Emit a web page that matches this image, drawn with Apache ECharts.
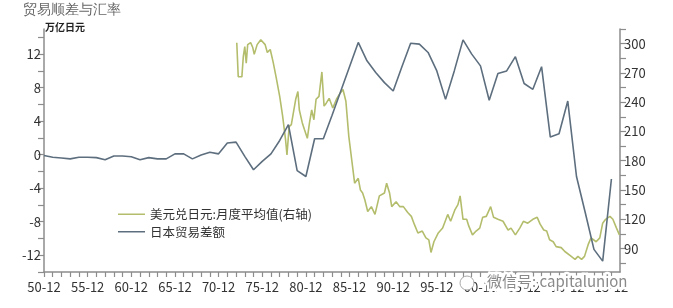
<!DOCTYPE html>
<html><head><meta charset="utf-8">
<script src="https://cdn.jsdelivr.net/npm/echarts@6/dist/echarts.min.js"></script>
<style>html,body{margin:0;padding:0;background:#fff}#c{width:673px;height:308px}</style>
</head><body><div id="c"></div>
<script>
// ---- data ----
const tradeYears = [1950,1951,1952,1953,1954,1955,1956,1957,1958,1959,1960,1961,1962,1963,1964,1965,1966,1967,1968,1969,1970,1971,1972,1973,1974,1975,1976,1977,1978,1979,1980,1981,1982,1983,1984,1985,1986,1987,1988,1989,1990,1991,1992,1993,1994,1995,1996,1997,1998,1999,2000,2001,2002,2003,2004,2005,2006,2007,2008,2009,2010,2011,2012,2013,2014,2015];
const tradeValues = [-0.1,-0.3,-0.4,-0.5,-0.3,-0.3,-0.35,-0.6,-0.15,-0.15,-0.25,-0.6,-0.35,-0.5,-0.5,0.1,0.1,-0.5,-0.05,0.3,0.1,1.4,1.5,-0.2,-1.8,-0.8,0.1,1.7,3.6,-1.9,-2.6,1.9,1.9,4.7,7.6,10.5,13.4,11.2,9.8,8.6,7.6,10.5,13.3,13.2,12.2,10.0,6.6,10.0,13.7,12.0,10.6,6.5,9.7,10.0,11.7,8.5,7.8,10.5,2.1,2.5,6.4,-2.6,-6.9,-11.3,-12.7,-2.9];
const fxDates = ['1973-01','1973-03','1973-05','1973-08','1973-10','1973-12','1974-02','1974-04','1974-08','1974-11','1975-01','1975-05','1975-10','1976-04','1976-07','1976-11','1977-03','1977-07','1977-12','1978-04','1978-08','1978-10','1979-01','1979-04','1979-10','1980-01','1980-03','1980-07','1980-10','1981-02','1981-05','1981-08','1981-11','1982-02','1982-06','1982-10','1983-01','1983-04','1983-08','1984-01','1984-06','1984-10','1985-03','1985-07','1985-11','1986-03','1986-07','1986-12','1987-03','1987-06','1987-09','1988-01','1988-06','1988-11','1989-05','1989-12','1990-03','1990-07','1990-10','1991-04','1991-09','1992-02','1992-08','1993-01','1993-05','1993-10','1994-04','1994-09','1995-01','1995-04','1995-08','1996-02','1996-08','1997-03','1997-07','1998-01','1998-05','1998-08','1998-12','1999-05','1999-08','2000-01','2000-06','2000-11','2001-03','2001-08','2002-02','2002-06','2002-12','2003-07','2004-02','2004-06','2004-12','2005-06','2005-11','2006-05','2006-12','2007-06','2007-10','2008-03','2008-07','2008-11','2009-04','2009-08','2010-03','2010-08','2011-03','2011-10','2012-02','2012-07','2012-11','2013-04','2013-08','2014-03','2014-08','2014-12','2015-04','2015-10','2016-02','2016-07','2016-11'];
const fxValues = [301,266,265,266,287,297,280,299,301,296,289,299,304,299,291,294,281,266,246,226,202,186,215,217,243,251,232,219,212,203,219,232,222,243,246,271,236,239,244,234,243,248,253,241,205,181,157,162,150,147,140,128,133,125,144,147,157,147,133,138,133,133,127,123,115,106,108,101,99,86,97,106,111,125,118,130,135,144,120,120,113,104,108,111,122,123,133,122,120,118,109,111,104,111,118,116,120,122,115,109,108,99,97,92,91,87,83,79,82,79,82,94,101,97,101,116,120,123,120,111,104];
const xLabelYears = [1950,1955,1960,1965,1970,1975,1980,1985,1990,1995,2000,2005,2010,2015];
const leftLabels = [-12,-8,-4,0,4,8,12];
const leftTicks = [-14,-12,-10,-8,-6,-4,-2,0,2,4,6,8,10,12,14];
const rightLabels = [90,120,150,180,210,240,270,300];
const rightTicks = [75,90,105,120,135,150,165,180,195,210,225,240,255,270,285,300,315];
const seriesNames = ['美元兑日元:月度平均值(右轴)','日本贸易差额'];
const titleText = '贸易顺差与汇率';
const unitText = '万亿日元';
const watermarkText = '微信号: capitalunion';

// ---- helpers ----
const dec = 11/12;
const monthToX = s => { const p = s.split('-').map(Number); return p[0] + (p[1]-1)/12; };
const tradeData = tradeYears.map((y,i)=>[y+dec, tradeValues[i]]);
const fxData = fxDates.map((d,i)=>[monthToX(d), fxValues[i]]);
const yearTicks = []; for (let y=1950; y<=2016; y++) yearTicks.push(y+dec);

const FONT = '"Noto Sans CJK SC", "Noto Sans", sans-serif';
const axisColor = '#8c8c8c';
const GREEN = '#b4bd6c', BLUE = '#5d6e7e';

const chart = echarts.init(document.getElementById('c'), null, {renderer:'canvas'});
chart.setOption({
  animation:false,
  backgroundColor:'#fff',
  grid:{left:44, right:53, top:29, bottom:36, containLabel:false},
  xAxis:{
    type:'value', min:1950+dec, max:2016.9,
    splitLine:{show:false},
    axisLine:{onZero:false, lineStyle:{color:axisColor, width:1.5}},
    axisTick:{customValues:yearTicks, length:5, lineStyle:{color:axisColor, width:1.2}},
    axisLabel:{customValues:xLabelYears.map(y=>y+dec), margin:9, color:'#333', fontSize:13, fontFamily:FONT,
      formatter:v=>String(Math.floor(v)%100).padStart(2,'0')+'-12'}
  },
  yAxis:[{
    type:'value', min:-14, max:15, position:'left',
    splitLine:{show:false},
    axisLine:{show:true, onZero:false, lineStyle:{color:axisColor, width:1.5}},
    axisTick:{show:true, customValues:leftTicks, length:6, lineStyle:{color:axisColor, width:1.2}},
    axisLabel:{customValues:leftLabels, margin:3, color:'#333', fontSize:13, fontFamily:FONT}
  },{
    type:'value', min:66, max:315, position:'right',
    splitLine:{show:false},
    axisLine:{show:true, onZero:false, lineStyle:{color:axisColor, width:1.5}},
    axisTick:{show:true, customValues:rightTicks, length:6, lineStyle:{color:axisColor, width:1.2}},
    axisLabel:{customValues:rightLabels, margin:4, color:'#333', fontSize:13, fontFamily:FONT}
  }],
  legend:{
    orient:'vertical', left:113, top:203, icon:'rect', itemWidth:27, itemHeight:1.5, itemGap:5,
    textStyle:{fontSize:12.5, color:'#333', fontFamily:FONT},
    data:seriesNames
  },
  series:[
    {name:seriesNames[0], type:'line', yAxisIndex:1, data:fxData, showSymbol:false, color:GREEN,
      lineStyle:{width:1.6, color:GREEN}, z:2},
    {name:seriesNames[1], type:'line', yAxisIndex:0, data:tradeData, showSymbol:false, color:BLUE,
      lineStyle:{width:1.6, color:BLUE}, z:3}
  ],
  graphic:[
    {type:'text', left:23, top:3, style:{text:titleText, fontSize:14, fill:'#666', font:'14px '+FONT}},
    {type:'text', left:45, top:22, style:{text:unitText, fill:'#222', font:'bold 10px '+FONT}},
    {type:'circle', shape:{cx:467, cy:283, r:7}, style:{fill:'#fff', stroke:'#aaa', lineWidth:1}, z:100},
    {type:'text', x:487, y:274, style:{text:watermarkText, fill:'#fff', stroke:'#fff', lineWidth:5, font:'15px '+FONT}, z:100},
    {type:'text', x:487, y:274, style:{text:watermarkText, fill:'#8a8a8a', font:'15px '+FONT}, z:101}
  ]
});
</script></body></html>
